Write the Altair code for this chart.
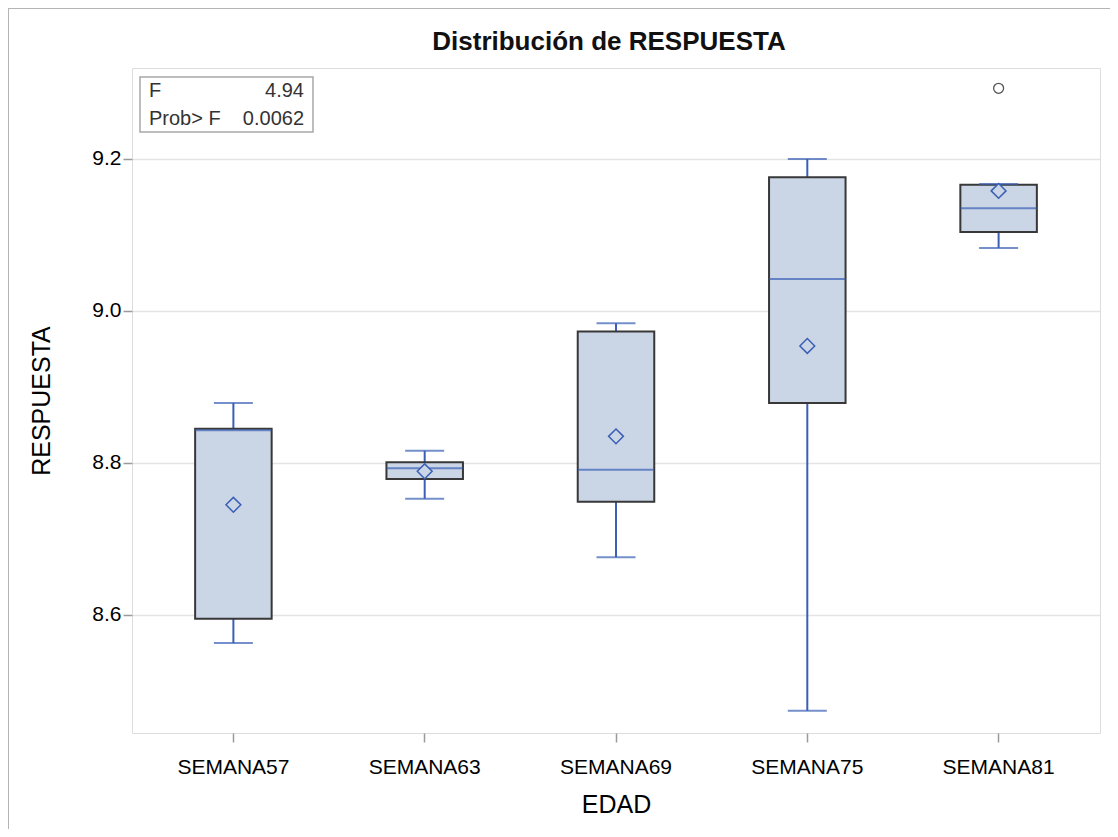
import altair as alt
import pandas as pd

categories = ["SEMANA57", "SEMANA63", "SEMANA69", "SEMANA75", "SEMANA81"]
whisker_low = [8.563, 8.753, 8.676, 8.474, 9.083]
q1 = [8.595, 8.779, 8.749, 8.879, 9.104]
median = [8.843, 8.793, 8.791, 9.042, 9.135]
q3 = [8.845, 8.801, 8.973, 9.176, 9.166]
whisker_high = [8.879, 8.816, 8.984, 9.200, 9.167]
mean = [8.745, 8.789, 8.835, 8.954, 9.158]
outlier_cat = ["SEMANA81"]
outlier_val = [9.293]
stat_labels = ["F", "Prob> F"]
stat_values = ["4.94", "0.0062"]
chart_title = "Distribución de RESPUESTA"

df = pd.DataFrame({
    "EDAD": categories, "low": whisker_low, "q1": q1, "median": median,
    "q3": q3, "high": whisker_high, "mean": mean,
})
df_out = pd.DataFrame({"EDAD": outlier_cat, "val": outlier_val})
df_one = pd.DataFrame({"a": [0]})
df_title = pd.DataFrame({"t": [chart_title]})

BLUE = "#3A5FB5"
FILL = "#CAD5E6"
EDGE = "#383838"
FONT = "Liberation Sans"

xenc = alt.X("EDAD:N", sort=categories, title="EDAD",
             scale=alt.Scale(paddingInner=0, paddingOuter=0.03),
             axis=alt.Axis(labelAngle=0, grid=False, tickSize=9, tickColor="#9A9A9A",
                           tickWidth=1.5, labelPadding=14, labelFontSize=21,
                           titleFontSize=25, titlePadding=15, domain=False,
                           titleFontWeight="normal"))
yscale = alt.Scale(domain=[8.4447, 9.3197], nice=False, zero=False)
yax = alt.Axis(values=[8.6, 8.8, 9.0, 9.2], format=".1f", grid=True, gridColor="#E4E4E4",
               gridWidth=1.5, tickSize=9, tickColor="#9A9A9A", tickWidth=1.5,
               labelFontSize=21, labelPadding=2, titleFontSize=25, titlePadding=37,
               domain=False, titleFontWeight="normal")

base = alt.Chart(df)

frame = alt.Chart(df_one).mark_rect(fillOpacity=0, stroke="#B4B4B4", strokeWidth=2, clip=False).encode(
    x=alt.value(-124), x2=alt.value(984), y=alt.value(-60), y2=alt.value(820))

title_mark = alt.Chart(df_title).mark_text(align="center", baseline="middle", fontSize=26,
                                           font=FONT, fontWeight="bold", color="#111111").encode(
    x=alt.value(477), y=alt.value(-26), text="t:N")

whisk_lo = base.mark_rule(color=BLUE, strokeWidth=2).encode(
    x=xenc, y=alt.Y("low:Q", scale=yscale, axis=yax, title="RESPUESTA"), y2="q1:Q")
whisk_hi = base.mark_rule(color=BLUE, strokeWidth=2).encode(
    x=xenc, y=alt.Y("q3:Q", scale=yscale), y2="high:Q")
boxes = base.mark_bar(fill=FILL, stroke=EDGE, strokeWidth=2,
                      width=alt.RelativeBandSize(0.4)).encode(
    x=xenc, y=alt.Y("q1:Q", scale=yscale), y2="q3:Q")
med = base.mark_tick(color=BLUE, size=76, thickness=2).encode(
    x=xenc, y=alt.Y("median:Q", scale=yscale))
cap_lo = base.mark_tick(color=BLUE, size=39, thickness=2).encode(
    x=xenc, y=alt.Y("low:Q", scale=yscale))
cap_hi = base.mark_tick(color=BLUE, size=39, thickness=2).encode(
    x=xenc, y=alt.Y("high:Q", scale=yscale))
means = base.mark_point(shape="diamond", size=220, fill=FILL, filled=True, stroke=BLUE,
                        strokeWidth=1.5, opacity=1).encode(
    x=xenc, y=alt.Y("mean:Q", scale=yscale))
outl = alt.Chart(df_out).mark_point(shape="circle", size=100, stroke="#555555",
                                    strokeWidth=1.3, filled=False, opacity=1).encode(
    x=xenc, y=alt.Y("val:Q", scale=yscale))

inset_box = alt.Chart(df_one).mark_rect(fillOpacity=0, stroke="#A8A8A8", strokeWidth=1.5).encode(
    x=alt.value(8), x2=alt.value(181), y=alt.value(9), y2=alt.value(64))

inset_texts = []
for i, ypix in enumerate([23, 51]):
    d = pd.DataFrame({"lab": [stat_labels[i]], "val": [stat_values[i]]})
    inset_texts.append(alt.Chart(d).mark_text(align="left", baseline="middle", fontSize=20,
                                              font=FONT, color="#333333").encode(
        x=alt.value(17), y=alt.value(ypix), text="lab:N"))
    inset_texts.append(alt.Chart(d).mark_text(align="right", baseline="middle", fontSize=20,
                                              font=FONT, color="#333333").encode(
        x=alt.value(172), y=alt.value(ypix), text="val:N"))

chart = alt.layer(
    frame, title_mark, whisk_lo, whisk_hi, boxes, med, cap_lo, cap_hi, means, outl,
    inset_box, *inset_texts
).properties(
    width=968, height=665,
    autosize=alt.AutoSizeParams(type="none"),
    padding={"left": 124, "top": 60, "right": 10, "bottom": 96},
).configure_view(stroke="#A0A0A0", strokeWidth=2).configure_axis(
    labelFont=FONT, titleFont=FONT, labelColor="#333333", titleColor="#333333",
    titleFontWeight="normal"
).configure(background="white")

chart.save("out.html", embed_options={"renderer": "svg", "actions": False})
